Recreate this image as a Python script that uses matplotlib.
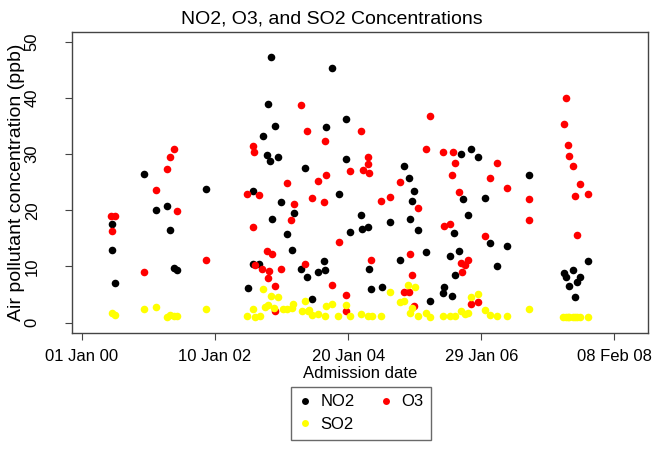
import numpy as np
import matplotlib
matplotlib.use("Agg")
import matplotlib.pyplot as plt
import matplotlib.dates as mdates
from matplotlib.lines import Line2D

plt.rcParams['font.family'] = ['Liberation Sans', 'DejaVu Sans']

# Days since 2000-01-01 and concentrations (ppb)
no2_days = [167, 170, 183, 344, 413, 474, 491, 513, 528, 691,
            924, 950, 952, 985, 1007, 1028, 1035, 1044, 1052, 1057,
            1074, 1089, 1107, 1141, 1166, 1178, 1218, 1240, 1253, 1281,
            1313, 1344, 1353, 1359, 1392, 1429, 1468, 1470, 1492, 1552,
            1559, 1592, 1594, 1607, 1667, 1713, 1768, 1792, 1817, 1822,
            1835, 1848, 1867, 1914, 1937, 2006, 2011, 2044, 2056, 2067,
            2072, 2096, 2107, 2120, 2144, 2163, 2200, 2242, 2267, 2309,
            2361, 2487, 2678, 2689, 2706, 2728, 2742, 2753, 2768, 2815]
no2_vals = [12.9, 17.5, 7.1, 26.5, 20.1, 20.8, 16.5, 9.7, 9.4, 23.8,
            6.2, 10.4, 23.4, 10.4, 33.3, 29.8, 38.9, 28.7, 47.2, 18.4,
            35.0, 29.4, 21.5, 15.8, 12.9, 19.6, 9.6, 27.6, 8.1, 4.3,
            9.0, 11.0, 9.4, 34.8, 45.4, 22.9, 36.2, 29.2, 16.2, 19.2,
            16.7, 17.0, 9.5, 6.0, 6.3, 17.9, 11.1, 27.9, 25.7, 18.5,
            21.6, 23.4, 16.5, 12.5, 3.9, 5.3, 6.4, 11.8, 4.8, 15.9,
            8.5, 12.7, 30.0, 22.0, 19.2, 30.9, 29.4, 22.1, 14.1, 10.1,
            13.6, 26.3, 8.9, 8.2, 6.5, 9.4, 4.6, 7.3, 8.2, 10.9]

o3_days = [163, 170, 185, 344, 413, 474, 491, 513, 528, 691,
           920, 950, 955, 952, 964, 985, 1003, 1028, 1035, 1042,
           1057, 1076, 1076, 1107, 1139, 1164, 1178, 1220, 1242, 1252,
           1281, 1314, 1344, 1352, 1359, 1392, 1428, 1468, 1468, 1492,
           1552, 1561, 1592, 1592, 1598, 1607, 1665, 1713, 1768, 1791,
           1817, 1822, 1835, 1848, 1867, 1913, 1937, 2009, 2015, 2046,
           2057, 2063, 2076, 2096, 2107, 2111, 2129, 2144, 2163, 2200,
           2242, 2267, 2309, 2361, 2487, 2487, 2680, 2691, 2702, 2709,
           2728, 2742, 2753, 2768, 2815]
o3_vals = [18.9, 16.3, 18.9, 9.0, 23.6, 27.3, 29.4, 30.9, 19.9, 11.2,
           22.9, 31.4, 30.4, 17.0, 10.2, 22.7, 9.6, 12.8, 7.9, 9.2,
           12.3, 6.6, 2.0, 9.6, 24.9, 18.3, 21.2, 38.8, 10.4, 34.1,
           22.1, 25.2, 21.5, 32.3, 26.2, 6.7, 14.3, 4.9, 2.0, 27.0,
           34.1, 27.2, 29.4, 28.2, 26.7, 11.2, 21.7, 22.3, 25.1, 5.4,
           5.5, 12.2, 8.5, 3.0, 20.4, 30.9, 36.8, 30.3, 17.2, 17.5,
           26.2, 30.3, 28.4, 23.3, 10.6, 9.0, 10.3, 11.1, 3.3, 3.6,
           15.5, 25.7, 28.4, 23.9, 22.0, 18.2, 35.4, 40.0, 31.6, 29.6,
           27.8, 22.5, 15.6, 24.7, 22.9]

so2_days = [170, 183, 344, 413, 474, 491, 513, 528, 691, 920,
            952, 963, 991, 1005, 1018, 1035, 1050, 1070, 1089, 1120,
            1142, 1166, 1175, 1222, 1242, 1259, 1261, 1281, 1314, 1352,
            1359, 1392, 1426, 1468, 1492, 1552, 1592, 1611, 1665, 1713,
            1770, 1791, 1813, 1822, 1837, 1850, 1867, 1914, 1937, 2009,
            2044, 2073, 2107, 2129, 2148, 2163, 2200, 2242, 2267, 2309,
            2361, 2487, 2675, 2691, 2702, 2709, 2728, 2742, 2753, 2768,
            2815]
so2_vals = [1.8, 1.4, 2.4, 2.8, 1.0, 1.4, 1.1, 1.1, 2.4, 1.1,
            2.4, 1.0, 1.1, 6.0, 2.8, 3.1, 4.8, 2.6, 4.5, 2.4,
            2.4, 2.6, 3.3, 2.1, 3.9, 2.0, 2.3, 1.4, 1.5, 1.1,
            3.0, 3.3, 1.2, 3.1, 1.2, 1.5, 1.1, 1.2, 1.2, 5.5,
            3.6, 3.9, 6.7, 1.8, 2.6, 6.4, 1.2, 1.7, 1.0, 1.1,
            1.2, 1.2, 2.0, 1.5, 1.8, 4.6, 5.1, 2.3, 1.4, 1.1,
            1.2, 2.4, 1.0, 1.0, 1.0, 1.0, 1.0, 1.0, 1.0, 1.0,
            1.0]

series_names = ["NO2", "O3", "SO2"]
series_colors = ["black", "red", "yellow"]
tick_dates = ["2000-01-01", "2002-01-10", "2004-01-20", "2006-01-29", "2008-02-08"]
y_ticks = [0, 10, 20, 30, 40, 50]

base = np.datetime64("2000-01-01")

def to_dates(days):
    return base + np.array(days, dtype="timedelta64[D]")

fig = plt.figure(figsize=(6.58, 4.49), dpi=100)
ax = fig.add_axes([0.10897, 0.2577, 0.8763, 0.6717])

data = [(no2_days, no2_vals), (o3_days, o3_vals), (so2_days, so2_vals)]
for (d, v), name, col in zip(data, series_names, series_colors):
    ax.scatter(to_dates(d), v, s=30, color=col, linewidths=0, label=name, zorder=3)

ax.set_xlim(base - np.timedelta64(56, "D"), base + np.timedelta64(3148, "D"))
ax.set_ylim(-1.89, 51.78)

ax.set_xticks([np.datetime64(t) for t in tick_dates])
ax.xaxis.set_major_formatter(mdates.DateFormatter("%d %b %y"))
ax.set_yticks(y_ticks)
for lbl in ax.get_yticklabels():
    lbl.set_rotation(90)
    lbl.set_va("center")

ax.tick_params(axis="both", direction="out", length=5, width=0.8, color="#444444",
               labelsize=12, labelcolor="black")
ax.tick_params(axis="x", pad=6)
ax.tick_params(axis="y", pad=18)
for sp in ax.spines.values():
    sp.set_color("#444444")
    sp.set_linewidth(1.0)

ax.set_xlabel("Admission date", fontsize=12, labelpad=2)
ax.set_ylabel("Air pollutant concentration (ppb)", fontsize=14, labelpad=0)

fig.text(332 / 658, 1 - 24 / 449, "NO2, O3, and SO2 Concentrations",
         ha="center", va="baseline", fontsize=14)

handles = [Line2D([], [], marker="o", linestyle="none", markersize=5,
                  markerfacecolor=c, markeredgewidth=0, label=n)
           for n, c in zip(series_names, series_colors)]
order = [0, 2, 1]
leg = fig.legend([handles[i] for i in order], [series_names[i] for i in order],
                 ncol=2, loc="upper center", bbox_to_anchor=(361 / 658, 1 - 387 / 449),
                 borderaxespad=0, frameon=True, fancybox=False, fontsize=12,
                 handlelength=0.8, handletextpad=0.5, columnspacing=1.5,
                 labelspacing=0.45, borderpad=0.45, edgecolor="#444444")
leg.get_frame().set_linewidth(1.0)

fig.savefig("out.png", dpi=100)
